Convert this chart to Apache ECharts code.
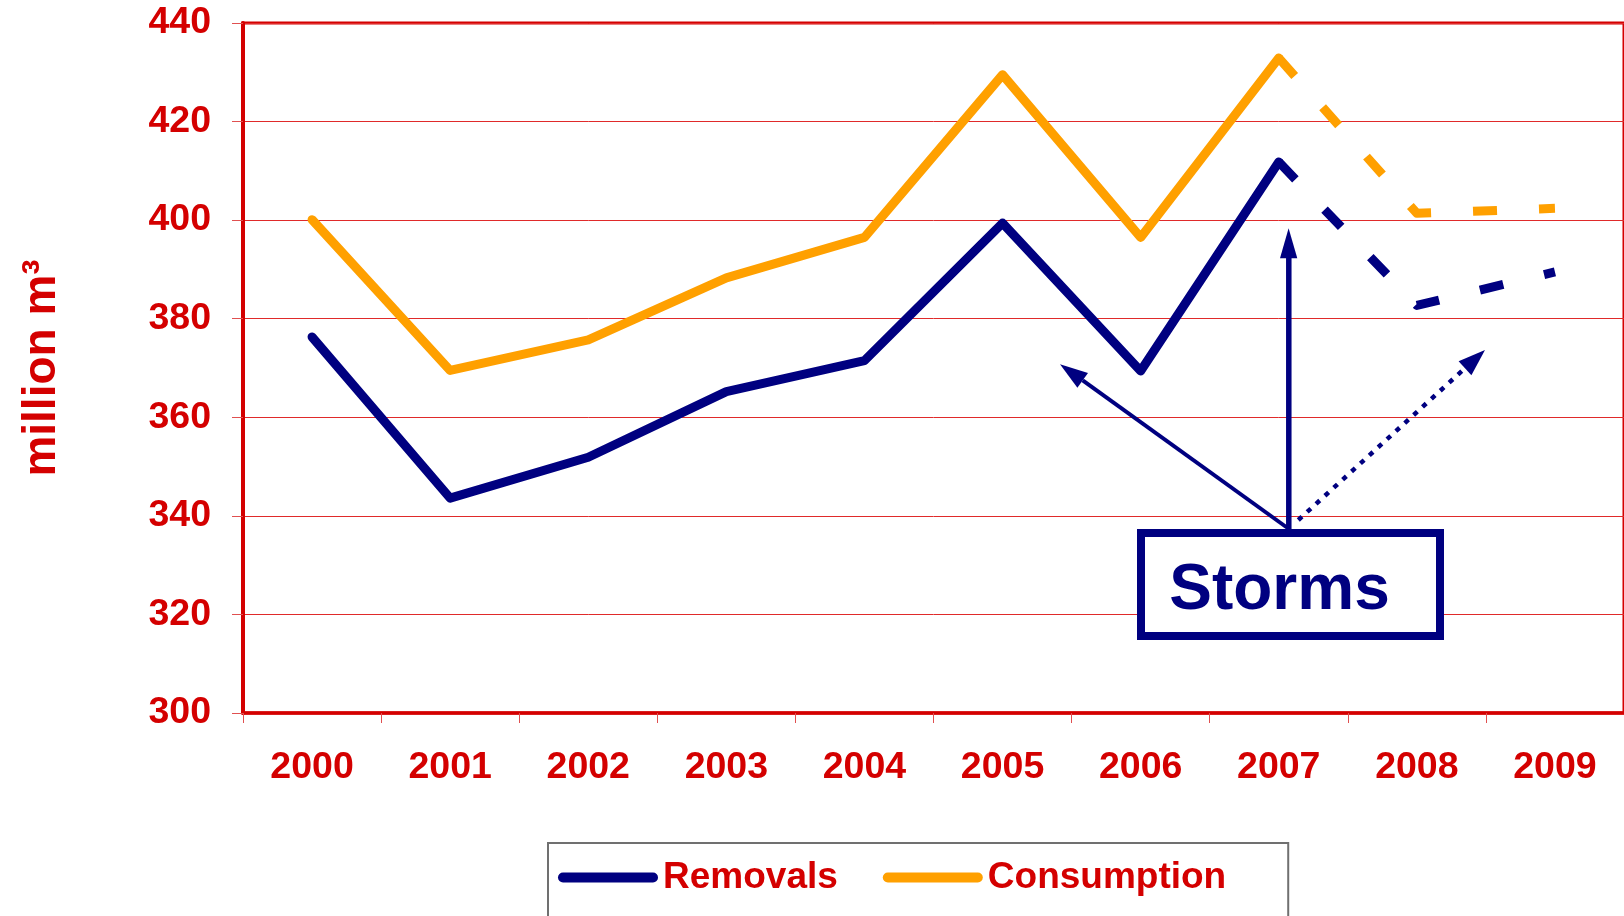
<!DOCTYPE html>
<html>
<head>
<meta charset="utf-8">
<script src="https://cdn.jsdelivr.net/npm/echarts@6/dist/echarts.min.js"></script>
<style>
html,body{margin:0;padding:0;background:#fff;}
#chart{width:1624px;height:916px;}
</style>
</head>
<body>
<div id="chart"></div>
<script>
// ---- data ----
const years = ['2000','2001','2002','2003','2004','2005','2006','2007','2008','2009'];
const removals = [376.3, 343.6, 351.9, 365.2, 371.5, 399.4, 369.4, 411.8, 382.7, 389.5];
const consumption = [400.1, 369.5, 375.7, 388.3, 396.5, 429.5, 396.5, 432.9, 401.4, 402.4];
const forecastFrom = 7; // index of last actual year (2007); later years are forecasts
const yTicks = { min: 300, max: 440, interval: 20 };
const seriesNames = ['Removals', 'Consumption'];
const annotationText = 'Storms';
const yAxisTitle = 'million m\u00B3';

// ---- style ----
const FONT = "'Liberation Sans', Arial, sans-serif";
const RED = '#d40000';
const NAVY = '#000080';
const ORANGE = '#ffa000';

const actual = arr => arr.map((v, i) => (i <= forecastFrom ? v : '-'));
const forecast = arr => arr.map((v, i) => (i >= forecastFrom ? v : '-'));

const chart = echarts.init(document.getElementById('chart'), null, { renderer: 'canvas' });

const solidStyle = color => ({ color, width: 9, cap: 'round', join: 'round' });
const dashStyle = color => ({ color, width: 9, type: [24, 42], cap: 'butt', join: 'round' });

const option = {
  backgroundColor: '#ffffff',
  animation: false,
  grid: {
    left: 243, right: -4, top: 23, bottom: 203,
    show: true, borderColor: RED, borderWidth: 3, backgroundColor: 'transparent'
  },
  xAxis: {
    type: 'category',
    data: years,
    boundaryGap: true,
    axisLine: { show: true, lineStyle: { color: RED, width: 3.5 } },
    axisTick: { show: true, length: 10, lineStyle: { color: '#e05050', width: 1 } },
    axisLabel: { color: RED, fontSize: 37.5, fontWeight: 'bold', fontFamily: FONT, margin: 36 },
    splitLine: { show: false }
  },
  yAxis: {
    type: 'value',
    min: yTicks.min, max: yTicks.max, interval: yTicks.interval,
    axisLine: { show: true, lineStyle: { color: RED, width: 4 } },
    axisTick: { show: true, length: 11, lineStyle: { color: '#e05050', width: 1 } },
    axisLabel: { color: RED, fontSize: 37.5, fontWeight: 'bold', fontFamily: FONT, margin: 32 },
    splitLine: { show: true, lineStyle: { color: '#e02a2a', width: 1 } },
    name: yAxisTitle,
    nameLocation: 'middle',
    nameRotate: 90,
    nameGap: 178,
    nameTextStyle: { color: RED, fontSize: 46, fontWeight: 'bold', fontFamily: FONT }
  },
  legend: {
    data: seriesNames,
    left: 548, top: 843,
    orient: 'horizontal',
    padding: [16, 62, 36, 10],
    itemGap: 45,
    itemWidth: 100, itemHeight: 10,
    icon: 'path://M5,0 L95,0 A5,5 0 0 1 95,10 L5,10 A5,5 0 0 1 5,0 Z',
    itemStyle: { borderWidth: 0 },
    borderColor: '#707070', borderWidth: 2,
    backgroundColor: '#fff',
    textStyle: { color: RED, fontSize: 37, fontWeight: 'bold', fontFamily: FONT, padding: [4, 0, 0, 0] }
  },
  series: [
    { name: seriesNames[0], type: 'line', data: actual(removals), symbol: 'none', showSymbol: false,
      color: NAVY, lineStyle: solidStyle(NAVY), z: 3 },
    { name: seriesNames[1], type: 'line', data: actual(consumption), symbol: 'none', showSymbol: false,
      color: ORANGE, lineStyle: solidStyle(ORANGE), z: 3 },
    { name: seriesNames[0] + ' (forecast)', type: 'line', data: forecast(removals), symbol: 'none', showSymbol: false,
      color: NAVY, lineStyle: dashStyle(NAVY), z: 3 },
    { name: seriesNames[1] + ' (forecast)', type: 'line', data: forecast(consumption), symbol: 'none', showSymbol: false,
      color: ORANGE, lineStyle: dashStyle(ORANGE), z: 3 }
  ],
  graphic: [
    // solid arrow to the upper left
    { type: 'line', z: 100, shape: { x1: 1289, y1: 529, x2: 1082.7, y2: 380.4 },
      style: { stroke: NAVY, lineWidth: 4 } },
    { type: 'polygon', z: 100, shape: { points: [[1060, 364.3], [1077.4, 387.7], [1088, 373.1]] },
      style: { fill: NAVY } },
    // vertical arrow
    { type: 'line', z: 100, shape: { x1: 1288.8, y1: 529, x2: 1288.8, y2: 255 },
      style: { stroke: NAVY, lineWidth: 5.5 } },
    { type: 'polygon', z: 100, shape: { points: [[1288.6, 228.3], [1280, 258.3], [1297.3, 258.3]] },
      style: { fill: NAVY } },
    // dotted arrow to the upper right
    { type: 'line', z: 100, shape: { x1: 1298.3, y1: 520, x2: 1465, y2: 368.2 },
      style: { stroke: NAVY, lineWidth: 4.5, lineDash: [5, 7], lineCap: 'butt' } },
    { type: 'polygon', z: 100, shape: { points: [[1485, 350], [1458.6, 361.2], [1471.4, 375.2]] },
      style: { fill: NAVY } },
    // Storms box
    { type: 'rect', z: 101, shape: { x: 1141, y: 533, width: 299, height: 103 },
      style: { fill: '#ffffff', stroke: NAVY, lineWidth: 8 } },
    { type: 'text', z: 102, x: 1279.5, y: 591,
      style: { text: annotationText, fill: NAVY, font: "bold 64px 'Liberation Sans', Arial, sans-serif",
        align: 'center', verticalAlign: 'middle' } }
  ]
};

chart.setOption(option);
</script>
</body>
</html>
